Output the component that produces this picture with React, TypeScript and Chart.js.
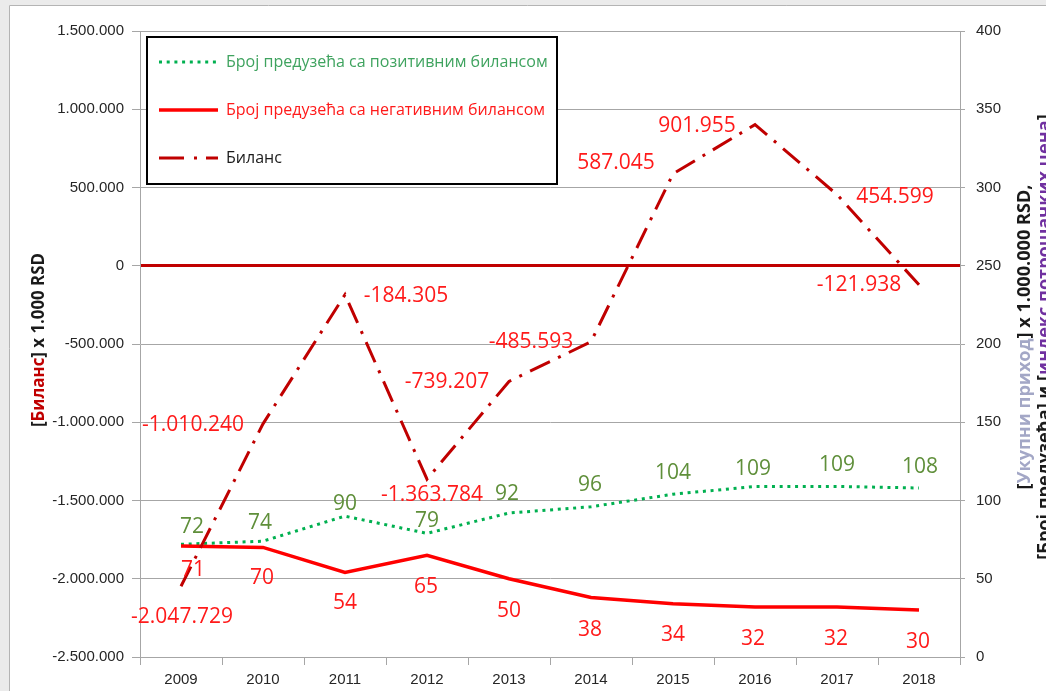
import React, { useEffect, useRef } from "react";
import { Chart, registerables } from "chart.js";

Chart.register(...registerables);

// ---------- data ----------
const years = ["2009", "2010", "2011", "2012", "2013", "2014", "2015", "2016", "2017", "2018"];
const positiveCount = [72, 74, 90, 79, 92, 96, 104, 109, 109, 108];
const negativeCount = [71, 70, 54, 65, 50, 38, 34, 32, 32, 30];
const balance = [-2047729, -1010240, -184305, -1363784, -739207, -485593, 587045, 901955, 454599, -121938];

const leftMin = -2500000;
const leftMax = 1500000;
const leftStep = 500000;
const rightMin = 0;
const rightMax = 400;
const rightStep = 50;

const seriesNames = [
  "Број предузећа са позитивним билансом",
  "Број предузећа са негативним билансом",
  "Биланс",
];

// ---------- label placement (pixel offsets from each point) ----------
const posLabelOffsets = [[11, -17], [-3, -18], [0, -12], [0, -12], [-2, -19], [-1, -22], [0, -21], [-2, -17], [0, -21], [1, -21]];
const negLabelOffsets = [[12, 24], [-1, 31], [0, 31], [-1, 32], [0, 32], [-1, 32], [0, 31], [-2, 32], [-1, 32], [-1, 32]];
const balLabelOffsets = [[1, 31], [-70, 1], [61, 1], [5, 16], [-62, 1], [-60, 0], [-57, -11], [-58, 1], [58, 2], [-60, 0]];

function fmt(v: number): string {
  const s = Math.abs(Math.round(v)).toString().replace(/\B(?=(\d{3})+(?!\d))/g, ".");
  return (v < 0 ? "-" : "") + s;
}

const GREEN_LINE = "#00b050";
const RED_LINE = "#ff0000";
const DARK_RED = "#c00000";
const GRID = "#a6a6a6";
const TICK_FONT = { family: "'Liberation Sans', Arial, sans-serif", size: 15 };
const LABEL_FONT = "21px 'Open Sans', sans-serif";
const BAL_DASH = [22, 9, 3, 9];
const DOT_DASH = [3, 4.7];

const backgroundPlugin = {
  id: "bgFrame",
  beforeDraw(chart: any) {
    const ctx = chart.ctx;
    ctx.save();
    ctx.fillStyle = "#ebebeb";
    ctx.fillRect(0, 0, chart.width, chart.height);
    ctx.fillStyle = "#ffffff";
    ctx.fillRect(9, 5, chart.width, chart.height);
    ctx.strokeStyle = "#b4b4b4";
    ctx.lineWidth = 1;
    ctx.beginPath();
    ctx.moveTo(9.5, chart.height);
    ctx.lineTo(9.5, 5.5);
    ctx.lineTo(chart.width, 5.5);
    ctx.stroke();
    ctx.restore();
  },
};

const dataLabelPlugin = {
  id: "dataLabels",
  afterDatasetsDraw(chart: any) {
    const ctx = chart.ctx;
    const specs = [
      { idx: 0, offs: posLabelOffsets, color: "#5f8f3a", fmtFn: (v: number) => String(v) },
      { idx: 1, offs: negLabelOffsets, color: "#ff1a1a", fmtFn: (v: number) => String(v) },
      { idx: 2, offs: balLabelOffsets, color: "#ff1a1a", fmtFn: fmt },
    ];
    ctx.save();
    ctx.font = LABEL_FONT;
    ctx.textAlign = "center";
    ctx.textBaseline = "middle";
    specs.forEach((s) => {
      const meta = chart.getDatasetMeta(s.idx);
      const values = chart.data.datasets[s.idx].data as number[];
      meta.data.forEach((pt: any, j: number) => {
        const o = s.offs[j] || [0, 0];
        ctx.fillStyle = s.color;
        ctx.fillText(s.fmtFn(values[j]), pt.x + o[0], pt.y + o[1]);
      });
    });
    ctx.restore();
  },
};

function fitFont(ctx: CanvasRenderingContext2D, text: string, weight: string, family: string, base: number, target: number) {
  ctx.font = `${weight} ${base}px ${family}`;
  const w = ctx.measureText(text).width;
  const size = w > 0 ? (base * target) / w : base;
  return `${weight} ${size.toFixed(2)}px ${family}`;
}

function drawParts(ctx: CanvasRenderingContext2D, parts: { t: string; c: string }[], cx: number, cy: number, angle: number) {
  const total = parts.reduce((a, p) => a + ctx.measureText(p.t).width, 0);
  ctx.save();
  ctx.translate(cx, cy);
  ctx.rotate(angle);
  ctx.textAlign = "left";
  ctx.textBaseline = "middle";
  let x = -total / 2;
  parts.forEach((p) => {
    ctx.fillStyle = p.c;
    ctx.fillText(p.t, x, 0);
    x += ctx.measureText(p.t).width;
  });
  ctx.restore();
}

const overlayPlugin = {
  id: "overlay",
  afterDraw(chart: any) {
    const ctx: CanvasRenderingContext2D = chart.ctx;
    ctx.save();
    // ----- legend box -----
    ctx.fillStyle = "#ffffff";
    ctx.fillRect(147, 37, 410, 147);
    ctx.strokeStyle = "#000000";
    ctx.lineWidth = 2;
    ctx.strokeRect(147, 37, 410, 147);

    const rows = [
      { y: 62, color: GREEN_LINE, dash: DOT_DASH, w: 3, text: seriesNames[0], tc: "#3fa35f" },
      { y: 110, color: RED_LINE, dash: [] as number[], w: 3.5, text: seriesNames[1], tc: "#ff1a1a" },
      { y: 158, color: DARK_RED, dash: [25, 10, 3, 9], w: 3, text: seriesNames[2], tc: "#1a1a1a" },
    ];
    ctx.font = fitFont(ctx, rows[0].text, "normal", "'Open Sans', sans-serif", 15, 322);
    rows.forEach((r) => {
      ctx.beginPath();
      ctx.setLineDash(r.dash);
      ctx.lineCap = "butt";
      ctx.strokeStyle = r.color;
      ctx.lineWidth = r.w;
      ctx.moveTo(159, r.y);
      ctx.lineTo(218, r.y);
      ctx.stroke();
      ctx.setLineDash([]);
      ctx.fillStyle = r.tc;
      ctx.textAlign = "left";
      ctx.textBaseline = "middle";
      ctx.fillText(r.text, 226, r.y);
    });

    // ----- left axis title -----
    const fam = "'Open Sans', sans-serif";
    const leftParts = [
      { t: "[", c: "#1a1a1a" },
      { t: "Биланс", c: DARK_RED },
      { t: "] x 1.000 RSD", c: "#1a1a1a" },
    ];
    ctx.font = fitFont(ctx, leftParts.map((p) => p.t).join(""), "bold", fam, 15, 174);
    drawParts(ctx, leftParts, 39, 340, -Math.PI / 2);

    // ----- right axis title -----
    const r1 = [
      { t: "[", c: "#1a1a1a" },
      { t: "Укупни приход", c: "#a3a7c6" },
      { t: "] x 1.000.000 RSD,", c: "#1a1a1a" },
    ];
    ctx.font = fitFont(ctx, r1.map((p) => p.t).join(""), "bold", fam, 15, 305);
    drawParts(ctx, r1, 1025, 337, -Math.PI / 2);
    const r2 = [
      { t: "[Број предузећа] и [", c: "#1a1a1a" },
      { t: "индекс потрошачких цена", c: "#7030a0" },
      { t: "]", c: "#1a1a1a" },
    ];
    drawParts(ctx, r2, 1045, 337, -Math.PI / 2);
    ctx.restore();
  },
};

export default function App() {
  const ref = useRef<HTMLCanvasElement | null>(null);

  useEffect(() => {
    if (!ref.current) return;
    const chart = new Chart(ref.current, {
      type: "line",
      data: {
        labels: years,
        datasets: [
          {
            label: seriesNames[0],
            data: positiveCount,
            yAxisID: "y1",
            borderColor: GREEN_LINE,
            borderWidth: 3,
            borderDash: DOT_DASH,
            borderCapStyle: "butt",
            pointRadius: 0,
            tension: 0,
            fill: false,
            order: 2,
          },
          {
            label: seriesNames[1],
            data: negativeCount,
            yAxisID: "y1",
            borderColor: RED_LINE,
            borderWidth: 3.5,
            pointRadius: 0,
            tension: 0,
            fill: false,
            order: 1,
          },
          {
            label: seriesNames[2],
            data: balance,
            yAxisID: "y",
            borderColor: DARK_RED,
            borderWidth: 3,
            borderDash: BAL_DASH,
            borderCapStyle: "butt",
            pointRadius: 0,
            tension: 0,
            fill: false,
            order: 0,
          },
        ],
      },
      options: {
        responsive: false,
        animation: false,
        layout: { padding: { top: 31, left: 0, right: 0, bottom: 0 } },
        plugins: {
          legend: { display: false },
          tooltip: { enabled: false },
          title: { display: false },
        },
        scales: {
          x: {
            type: "category",
            offset: true,
            grid: {
              display: true,
              offset: true,
              drawOnChartArea: false,
              drawTicks: true,
              tickLength: 8,
              color: GRID,
            },
            border: { display: true, color: GRID, width: 1 },
            ticks: { color: "#262626", font: TICK_FONT, padding: 6, maxRotation: 0, autoSkip: false },
            afterFit(scale: any) {
              scale.height = 34;
            },
          },
          y: {
            type: "linear",
            position: "left",
            min: leftMin,
            max: leftMax,
            grid: {
              color: (c: any) => (c.tick && c.tick.value === 0 ? DARK_RED : GRID),
              lineWidth: (c: any) => (c.tick && c.tick.value === 0 ? 3 : 1),
              tickColor: GRID,
              tickWidth: 1,
              tickLength: 8,
            },
            border: { display: true, color: GRID, width: 1 },
            ticks: {
              stepSize: leftStep,
              color: "#262626",
              font: TICK_FONT,
              padding: 8,
              callback: (v: any) => fmt(Number(v)),
            },
            afterFit(scale: any) {
              scale.width = 140;
            },
          },
          y1: {
            type: "linear",
            position: "right",
            min: rightMin,
            max: rightMax,
            grid: {
              drawOnChartArea: false,
              color: GRID,
              tickLength: 5,
            },
            border: { display: true, color: GRID, width: 1 },
            ticks: {
              stepSize: rightStep,
              color: "#262626",
              font: TICK_FONT,
              padding: 11,
            },
            afterFit(scale: any) {
              scale.width = 86;
            },
          },
        },
      },
      plugins: [backgroundPlugin, dataLabelPlugin, overlayPlugin],
    } as any);
    return () => chart.destroy();
  }, []);

  return (
    <div style={{ position: "fixed", left: 0, top: 0, width: 1046, height: 691 }}>
      <canvas ref={ref} width={1046} height={691} style={{ display: "block" }} />
    </div>
  );
}
